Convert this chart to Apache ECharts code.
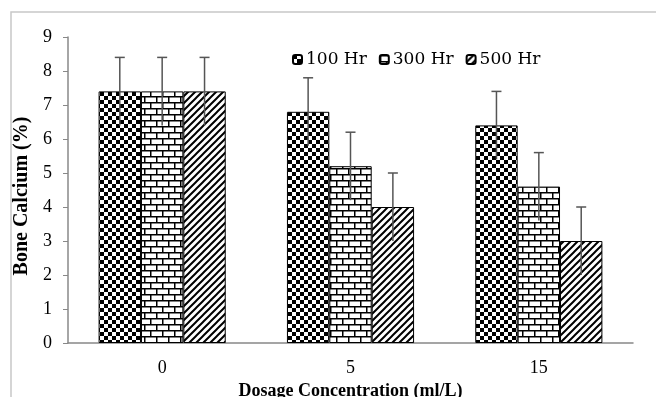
<!DOCTYPE html>
<html>
<head>
<meta charset="utf-8">
<script src="https://cdn.jsdelivr.net/npm/echarts@6/dist/echarts.min.js"></script>
<style>
  html, body { margin: 0; padding: 0; background: #fff; }
  #chart { width: 656px; height: 397px; }
</style>
</head>
<body>
<div id="chart"></div>
<script>
// data
const categories = ['0', '5', '15'];
const seriesNames = ['100 Hr', '300 Hr', '500 Hr'];
const hr100 = [7.4, 6.8, 6.4];
const hr300 = [7.4, 5.2, 4.6];
const hr500 = [7.4, 4.0, 3.0];
const errors = [
  [1.0, 1.0, 1.0],
  [1.0, 1.0, 1.0],
  [1.0, 1.0, 1.0]
];
const yTicks = [0, 1, 2, 3, 4, 5, 6, 7, 8, 9];

const FONT = '"Liberation Serif", "Times New Roman", serif';
const LEGEND_FONT = '"DejaVu Serif", serif';

// hatch patterns drawn on small canvases
function makeTile(w, h, draw) {
  const c = document.createElement('canvas');
  c.width = w; c.height = h;
  const ctx = c.getContext('2d');
  ctx.fillStyle = '#fff';
  ctx.fillRect(0, 0, w, h);
  ctx.fillStyle = '#000';
  ctx.strokeStyle = '#000';
  draw(ctx);
  return { image: c, repeat: 'repeat' };
}

const checker = makeTile(8, 8, ctx => {
  ctx.fillRect(0, 0, 4, 4);
  ctx.fillRect(4, 4, 4, 4);
});

const brick = makeTile(12, 12, ctx => {
  ctx.fillRect(0, 0, 12, 1.5);
  ctx.fillRect(0, 6, 12, 1.5);
  ctx.fillRect(0, 0, 1.5, 6);
  ctx.fillRect(6, 6, 1.5, 6);
});

const diag = makeTile(7, 7, ctx => {
  ctx.lineWidth = 2;
  ctx.beginPath();
  ctx.moveTo(0, 7); ctx.lineTo(7, 0);
  ctx.moveTo(-1, 1); ctx.lineTo(1, -1);
  ctx.moveTo(6, 8); ctx.lineTo(8, 6);
  ctx.stroke();
});

const patterns = [checker, brick, diag];
const values = [hr100, hr300, hr500];
const BAR_FRAC = 0.225;

const barSeries = seriesNames.map((name, i) => ({
  name: name,
  type: 'bar',
  data: values[i],
  barWidth: (BAR_FRAC * 100) + '%',
  barGap: '0%',
  itemStyle: { color: patterns[i], borderColor: '#000', borderWidth: 1 },
  z: 2
}));

const errSeries = seriesNames.map((name, i) => ({
  type: 'custom',
  z: 5,
  silent: true,
  data: values[i].map((v, k) => [k, v, errors[i][k]]),
  renderItem: (params, api) => {
    const k = api.value(0);
    const v = api.value(1);
    const e = api.value(2);
    const band = api.size([1, 0])[0];
    const dx = (i - 1) * band * BAR_FRAC;
    const hi = api.coord([k, v + e]);
    const lo = api.coord([k, v - e]);
    const x = hi[0] + dx;
    const style = { stroke: '#555', lineWidth: 1.5 };
    return {
      type: 'group',
      children: [
        { type: 'line', shape: { x1: x, y1: hi[1], x2: x, y2: lo[1] }, style },
        { type: 'line', shape: { x1: x - 5, y1: hi[1], x2: x + 5, y2: hi[1] }, style }
      ]
    };
  }
}));

const chart = echarts.init(document.getElementById('chart'));
chart.setOption({
  backgroundColor: '#fff',
  animation: false,
  textStyle: { fontFamily: FONT },
  graphic: [{
    type: 'rect',
    shape: { x: 11, y: 12, width: 700, height: 420 },
    style: { fill: 'none', stroke: '#c8c8c8', lineWidth: 1.5 },
    silent: true
  }],
  legend: {
    data: seriesNames,
    top: 46,
    left: 287,
    itemWidth: 9,
    itemHeight: 9,
    itemGap: 12,
    textStyle: { fontFamily: LEGEND_FONT, fontSize: 17, color: '#000', padding: [0, 0, 0, -1] }
  },
  grid: { left: 68, right: 23, top: 37, bottom: 54, outerBoundsMode: 'none' },
  xAxis: {
    type: 'category',
    data: categories,
    name: 'Dosage Concentration (ml/L)',
    nameLocation: 'middle',
    nameGap: 33,
    nameTextStyle: { fontFamily: FONT, fontSize: 18, fontWeight: 'bold', color: '#000' },
    axisLine: { lineStyle: { color: '#888', width: 1.5 } },
    axisTick: { show: false },
    axisLabel: { fontFamily: FONT, fontSize: 18, color: '#000', margin: 16 }
  },
  yAxis: {
    type: 'value',
    min: yTicks[0],
    max: yTicks[yTicks.length - 1],
    interval: 1,
    name: 'Bone Calcium (%)',
    nameLocation: 'middle',
    nameGap: 34,
    nameTextStyle: { fontFamily: FONT, fontSize: 20, fontWeight: 'bold', color: '#000', padding: [0, 12, 0, 0] },
    axisLine: { show: true, lineStyle: { color: '#888', width: 1.5 } },
    axisTick: { show: true, length: 5, lineStyle: { color: '#888' } },
    splitLine: { show: false },
    axisLabel: { fontFamily: FONT, fontSize: 18, color: '#000', margin: 16 }
  },
  series: [...barSeries, ...errSeries]
});
</script>
</body>
</html>
